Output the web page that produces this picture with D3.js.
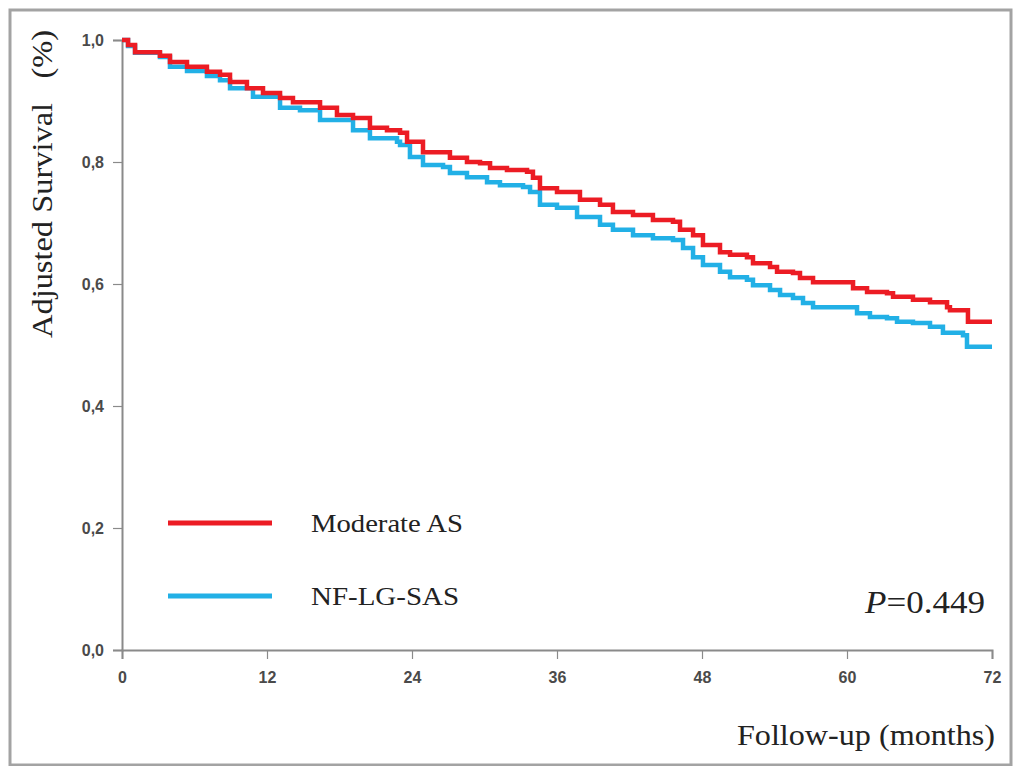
<!DOCTYPE html>
<html>
<head>
  <meta charset="utf-8">
  <script src="https://cdn.jsdelivr.net/npm/d3@7/dist/d3.min.js"></script>
  <style>
    html, body { margin: 0; padding: 0; background: #fff; }
    svg { display: block; }
    .tick text { font-family: "Liberation Sans", Arial, sans-serif; font-size: 16px; font-weight: bold; fill: #4a4a4a; }
  </style>
</head>
<body>
<svg id="chart" width="1013" height="766"></svg>
<script>
  // series: [month, survival]
  var moderateAS = [
    [0, 1.000], [0.5, 0.992], [1.08, 0.980], [3.14, 0.974], [3.97, 0.964], [5.38, 0.956],
    [7.03, 0.948], [8.11, 0.943], [8.94, 0.931], [10.34, 0.921], [11.67, 0.913], [13.08, 0.905],
    [14.15, 0.898], [15.31, 0.898], [16.39, 0.889], [17.79, 0.877], [19.12, 0.872], [20.52, 0.856],
    [21.93, 0.852], [23.01, 0.848], [23.59, 0.833], [24.91, 0.816], [26.57, 0.816], [27.14, 0.807],
    [28.55, 0.800], [29.63, 0.798], [30.46, 0.790], [31.86, 0.787], [33.52, 0.784], [34.01, 0.774],
    [34.59, 0.757], [36.00, 0.751], [37.24, 0.751], [37.90, 0.738], [39.56, 0.730], [40.63, 0.718],
    [42.29, 0.713], [43.45, 0.713], [43.94, 0.705], [45.60, 0.702], [46.18, 0.689], [47.26, 0.680],
    [48.08, 0.664], [49.49, 0.652], [50.32, 0.648], [51.72, 0.644], [52.22, 0.634], [53.63, 0.628],
    [54.21, 0.620], [55.53, 0.618], [56.11, 0.610], [57.19, 0.603], [60.00, 0.603], [60.50, 0.593],
    [61.66, 0.587], [63.31, 0.585], [63.81, 0.579], [65.46, 0.574], [66.87, 0.570], [68.28, 0.562],
    [68.52, 0.557], [69.93, 0.557], [70.01, 0.538], [72.00, 0.538]
  ];
  var nfLgSas = [
    [0, 1.000], [0.5, 0.990], [1.08, 0.979], [3.14, 0.972], [3.97, 0.956], [5.38, 0.949],
    [7.03, 0.941], [8.11, 0.934], [8.94, 0.921], [10.84, 0.907], [13.08, 0.889], [14.73, 0.885],
    [16.39, 0.869], [19.12, 0.852], [20.52, 0.839], [22.76, 0.833], [23.01, 0.828], [23.83, 0.808],
    [24.91, 0.795], [26.57, 0.792], [27.14, 0.782], [28.55, 0.775], [30.21, 0.767], [31.28, 0.762],
    [33.19, 0.759], [33.77, 0.751], [34.59, 0.730], [36.00, 0.725], [37.08, 0.725], [37.66, 0.710],
    [39.56, 0.697], [40.63, 0.689], [42.29, 0.680], [43.45, 0.680], [43.94, 0.675], [45.60, 0.672],
    [46.43, 0.659], [47.26, 0.644], [48.08, 0.631], [49.49, 0.620], [50.32, 0.611], [51.72, 0.607],
    [52.22, 0.598], [53.63, 0.590], [54.46, 0.582], [55.53, 0.577], [56.36, 0.569], [57.19, 0.562],
    [60.00, 0.562], [60.83, 0.552], [61.90, 0.546], [63.31, 0.544], [64.14, 0.538], [65.46, 0.536],
    [66.87, 0.530], [67.94, 0.520], [69.60, 0.516], [69.93, 0.497], [72.00, 0.497]
  ];
  var xTicks = [0, 12, 24, 36, 48, 60, 72];
  var yTicks = [0, 0.2, 0.4, 0.6, 0.8, 1.0];
  var legendNames = ['Moderate AS', 'NF-LG-SAS'];
  var colors = ['#ec1c24', '#22b0e6'];

  var svg = d3.select('#chart');
  var serif = '"Liberation Serif", "Times New Roman", serif';

  // outer frame
  svg.append('rect')
    .attr('x', 10).attr('y', 10)
    .attr('width', 1001).attr('height', 755)
    .attr('fill', 'none')
    .attr('stroke', '#a3a3a3')
    .attr('stroke-width', 3);

  var x = d3.scaleLinear().domain([0, 72]).range([122, 992]);
  var y = d3.scaleLinear().domain([0, 1]).range([650, 40]);

  var fmt = function(d) { return d3.format('.1f')(d).replace('.', ','); };

  var xAxis = svg.append('g')
    .attr('transform', 'translate(0,650)')
    .call(d3.axisBottom(x).tickValues(xTicks).tickSize(9).tickPadding(13).tickFormat(d3.format('d')));
  var yAxis = svg.append('g')
    .attr('transform', 'translate(122,0)')
    .call(d3.axisLeft(y).tickValues(yTicks).tickSize(9).tickPadding(9).tickFormat(fmt));
  [xAxis, yAxis].forEach(function(a) {
    a.select('.domain').attr('stroke', '#8a8a8a').attr('stroke-width', 2);
    a.selectAll('.tick line').attr('stroke', '#8a8a8a').attr('stroke-width', 1.2);
  });

  var line = d3.line()
    .x(function(d) { return x(d[0]); })
    .y(function(d) { return y(d[1]); })
    .curve(d3.curveStepAfter);

  [nfLgSas, moderateAS].forEach(function(s, i) {
    svg.append('path')
      .attr('d', line(s))
      .attr('fill', 'none')
      .attr('stroke', colors[1 - i])
      .attr('stroke-width', 4.5);
  });

  // legend
  var legendWidths = [152, 148];
  legendNames.forEach(function(name, i) {
    var ly = 523 + i * 73;
    svg.append('line')
      .attr('x1', 168).attr('x2', 272)
      .attr('y1', ly).attr('y2', ly)
      .attr('stroke', colors[i])
      .attr('stroke-width', 5);
    svg.append('text')
      .attr('x', 311).attr('y', ly + 9)
      .attr('font-family', serif)
      .attr('font-size', 25)
      .attr('fill', '#222')
      .attr('textLength', legendWidths[i])
      .attr('lengthAdjust', 'spacingAndGlyphs')
      .text(name);
  });

  // p value
  var p = svg.append('text')
    .attr('x', 865).attr('y', 613)
    .attr('font-family', serif)
    .attr('font-size', 31)
    .attr('fill', '#222')
    .attr('textLength', 120)
    .attr('lengthAdjust', 'spacingAndGlyphs');
  p.append('tspan').attr('font-style', 'italic').text('P');
  p.append('tspan').text('=0.449');

  // axis titles
  svg.append('text')
    .attr('x', 737).attr('y', 745)
    .attr('font-family', serif)
    .attr('font-size', 29)
    .attr('fill', '#222')
    .attr('textLength', 258)
    .attr('lengthAdjust', 'spacingAndGlyphs')
    .text('Follow-up (months)');

  svg.append('text')
    .attr('transform', 'translate(52,338) rotate(-90)')
    .attr('font-family', serif)
    .attr('font-size', 29)
    .attr('fill', '#222')
    .attr('xml:space', 'preserve')
    .attr('textLength', 308)
    .attr('lengthAdjust', 'spacingAndGlyphs')
    .text('Adjusted Survival   (%)');
</script>
</body>
</html>
